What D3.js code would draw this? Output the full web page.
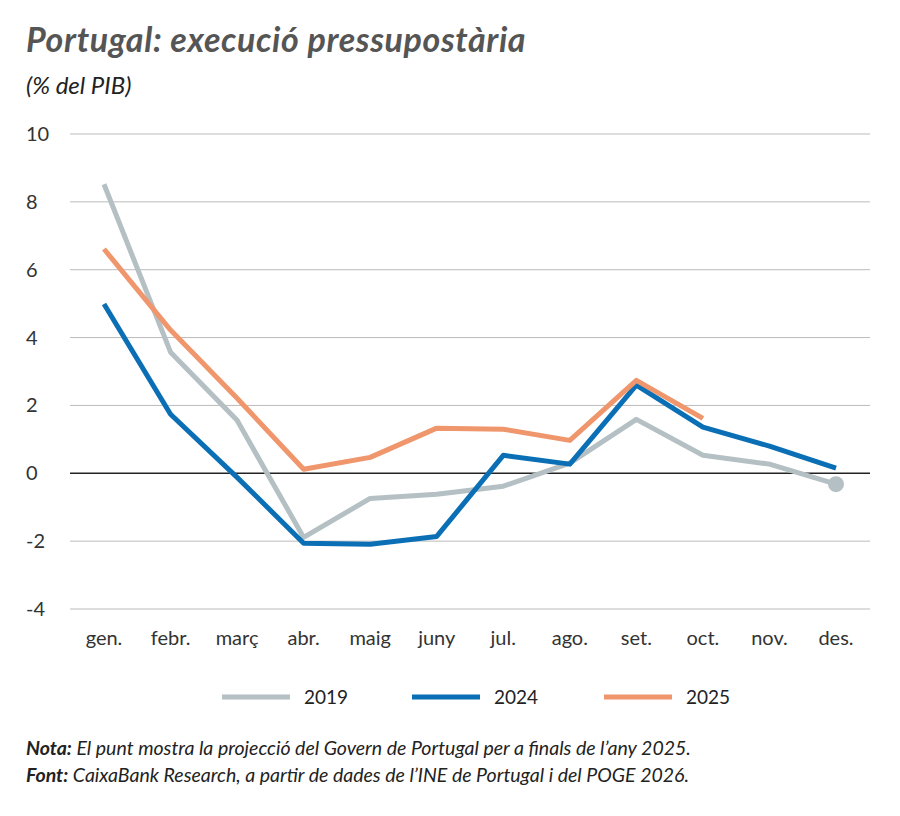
<!DOCTYPE html>
<html><head><meta charset="utf-8">
<script src="https://cdn.jsdelivr.net/npm/d3@7"></script>
<style>body{margin:0;background:#fff;font-family:Lato,"Open Sans",sans-serif;}</style>
</head><body><svg id="c" width="900" height="816"></svg>
<script>
const months=["gen.","febr.","març","abr.","maig","juny","jul.","ago.","set.","oct.","nov.","des."];
const s2019=[8.52,3.57,1.56,-1.89,-0.74,-0.62,-0.38,0.3,1.59,0.53,0.27,-0.32];
const s2024=[4.99,1.74,-0.12,-2.06,-2.09,-1.86,0.53,0.27,2.6,1.36,0.8,0.15];
const s2025=[6.61,4.22,2.21,0.12,0.47,1.33,1.3,0.97,2.74,1.62];
const projection2025=-0.32;
const yTicks=[10,8,6,4,2,0,-2,-4];
const seriesNames=["2019","2024","2025"];
const colors=["#b4c0c3","#0b6fb5","#f0966d"];

const svg=d3.select("#c");
const x=d3.scalePoint().domain(months).range([104,836]);
const y=d3.scaleLinear().domain([-4,10]).range([609,134]);

svg.append("text").attr("x",26).attr("y",52).attr("font-size",34).attr("letter-spacing",0.6).attr("font-weight","bold").attr("font-style","italic").attr("fill","#555").text("Portugal: execució pressupostària");
svg.append("text").attr("x",26).attr("y",94).attr("font-size",24).attr("font-style","italic").attr("fill","#222").text("(% del PIB)");

const g=svg.append("g");
yTicks.forEach(t=>{
  g.append("line").attr("x1",70).attr("x2",870).attr("y1",y(t)).attr("y2",y(t))
   .attr("stroke",t===0?"#222":"#bbb").attr("stroke-width",t===0?1.5:1);
  g.append("text").attr("x",26).attr("y",y(t)+7).attr("font-size",20).attr("fill","#333").text(t);
});
months.forEach(m=>{
  g.append("text").attr("x",x(m)).attr("y",645).attr("text-anchor","middle").attr("font-size",20).attr("fill","#333").text(m);
});
const line=d3.line().x((d,i)=>x(months[i])).y(d=>y(d));
[s2019,s2024,s2025].forEach((s,k)=>{
  g.append("path").attr("d",line(s)).attr("fill","none").attr("stroke",colors[k]).attr("stroke-width",5).attr("stroke-linejoin","round");
});
g.append("circle").attr("cx",x("des.")).attr("cy",y(projection2025)).attr("r",8).attr("fill",colors[0]);

const lx=[222,412,604];
seriesNames.forEach((n,k)=>{
  svg.append("line").attr("x1",lx[k]).attr("x2",lx[k]+68).attr("y1",697).attr("y2",697).attr("stroke",colors[k]).attr("stroke-width",5);
  svg.append("text").attr("x",lx[k]+82).attr("y",704).attr("font-size",19).attr("fill","#222").text(n);
});
const n1=svg.append("text").attr("x",26).attr("y",755).attr("font-size",19.5).attr("font-style","italic").attr("fill","#222");
n1.append("tspan").attr("font-weight","bold").text("Nota:");
n1.append("tspan").text(" El punt mostra la projecció del Govern de Portugal per a finals de l’any 2025.");
const n2=svg.append("text").attr("x",26).attr("y",782).attr("font-size",19.5).attr("font-style","italic").attr("fill","#222");
n2.append("tspan").attr("font-weight","bold").text("Font:");
n2.append("tspan").text(" CaixaBank Research, a partir de dades de l’INE de Portugal i del POGE 2026.");
</script></body></html>
